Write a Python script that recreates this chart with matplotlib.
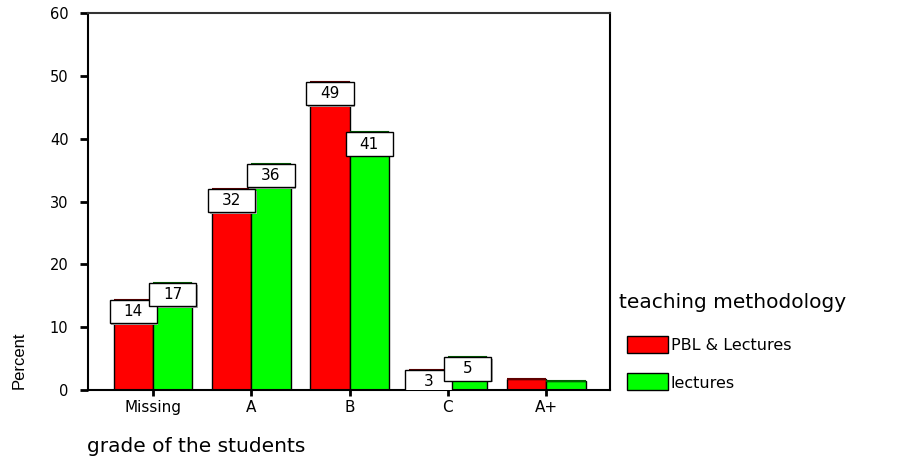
import matplotlib
matplotlib.use("Agg")
import matplotlib.pyplot as plt
from matplotlib.patches import Rectangle
import numpy as np

plt.rcParams['font.family'] = ['DejaVu Sans']

categories = ["Missing", "A", "B", "C", "A+"]
pbl_lectures = [14.3, 32.0, 49.0, 3.2, 1.7]
lectures = [17.0, 36.0, 41.0, 5.2, 1.5]
pbl_labels = ["14", "32", "49", "3", None]
lec_labels = ["17", "36", "41", "5", None]
series_names = ["PBL & Lectures", "lectures"]
yticks = [0, 10, 20, 30, 40, 50, 60]

W, H = 904, 457
fig = plt.figure(figsize=(W / 100, H / 100), dpi=100)
ax = fig.add_axes([88 / W, 1 - 390 / H, (610 - 88) / W, (390 - 13) / H])

x = np.arange(len(categories))
bw = 0.40
colors = ["#ff0000", "#00ff00"]
tops = ["#600000", "#006000"]

for vals, labs, off, c, tc in [(pbl_lectures, pbl_labels, -bw / 2, colors[0], tops[0]),
                               (lectures, lec_labels, bw / 2, colors[1], tops[1])]:
    bars = ax.bar(x + off, vals, width=bw, color=c, edgecolor="black", linewidth=1.0, zorder=2)
    for b in bars:
        ax.plot([b.get_x(), b.get_x() + b.get_width()], [b.get_height()] * 2,
                color=tc, lw=1.5, zorder=3, solid_capstyle="butt")
    for xi, v, lab in zip(x + off, vals, labs):
        if lab is None:
            continue
        bw_box = 0.48
        bh_box = 3.7
        ax.add_patch(Rectangle((xi - bw_box / 2 + 0.015, v - bh_box - 0.25), bw_box, bh_box,
                               facecolor="#aaaaaa", edgecolor="none", zorder=4))
        ax.add_patch(Rectangle((xi - bw_box / 2, v - bh_box), bw_box, bh_box,
                               facecolor="white", edgecolor="black", linewidth=1.0, zorder=5))
        ax.text(xi, v - bh_box / 2, lab, ha="center", va="center", fontsize=11, zorder=6)

ax.set_xlim(-0.661, 4.649)
ax.set_ylim(0, 60)
ax.set_yticks(yticks)
ax.set_yticklabels([str(t) for t in yticks], fontsize=10.5)
ax.set_xticks(x)
ax.set_xticklabels(categories, fontsize=11)
ax.tick_params(axis="y", length=6, width=2, pad=8)
ax.tick_params(axis="x", length=4, width=2, pad=3)
for s in ax.spines.values():
    s.set_linewidth(1.5)
    s.set_color("black")
ax.spines["top"].set_color("#333333")

# y label
fig.text(19 / W, 1 - 360 / H, "Percent", rotation=90, ha="center", va="center",
         fontsize=12, family=["Liberation Sans", "DejaVu Sans"])
# x label
fig.text(87 / W, 1 - 447 / H, "grade of the students", ha="left", va="center", fontsize=14.5)

# legend
fig.text(619 / W, 1 - 302 / H, "teaching methodology", ha="left", va="center", fontsize=14.5)
for i, (name, c) in enumerate(zip(series_names, colors)):
    ytop = 336 + i * 37
    fig.add_artist(Rectangle((627 / W, 1 - (ytop + 17) / H), 41 / W, 17 / H,
                             facecolor=c, edgecolor="black", linewidth=1.0,
                             transform=fig.transFigure))
    fig.text(671 / W, 1 - (ytop + 10) / H, name, ha="left", va="center", fontsize=11.5)

fig.savefig("out.png", dpi=100)
